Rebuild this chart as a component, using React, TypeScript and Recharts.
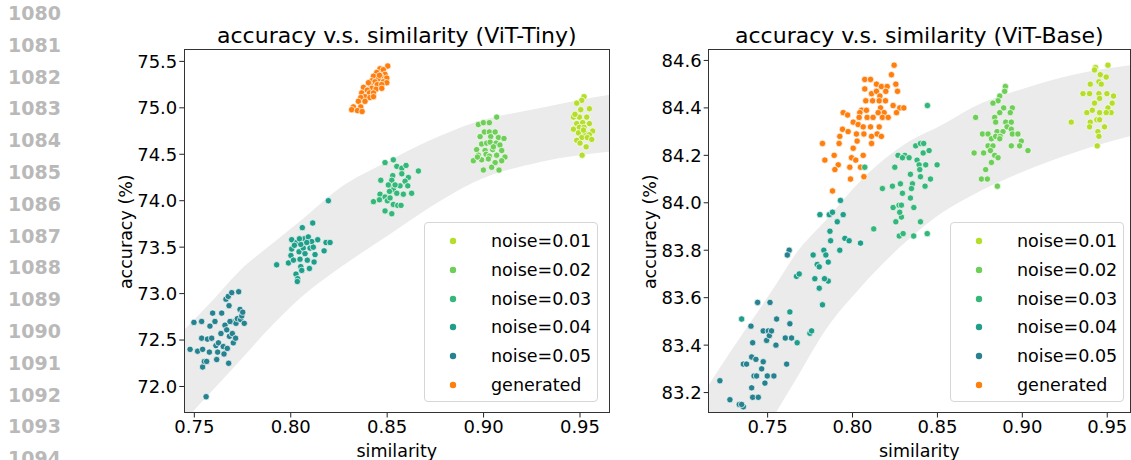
import React from 'react'
import { ComposedChart, Area, Scatter, XAxis, YAxis, Legend } from 'recharts'

const FONT = '"DejaVu Sans", sans-serif'

const legendLabels = ['noise=0.01', 'noise=0.02', 'noise=0.03', 'noise=0.04', 'noise=0.05', 'generated']
const colors = ['#b5de2b', '#6ece58', '#35b779', '#1f9e89', '#26828e', '#ff7f0e']
const lineNumbers = ['1080', '1081', '1082', '1083', '1084', '1085', '1086', '1087', '1088', '1089', '1090', '1091', '1092', '1093', '1094']

const xTicks = [0.75, 0.8, 0.85, 0.9, 0.95]
const tinyYTicks = [72, 72.5, 73, 73.5, 74, 74.5, 75, 75.5]
const baseYTicks = [83.2, 83.4, 83.6, 83.8, 84.0, 84.2, 84.4, 84.6]

// shaded trend band (lower / upper edge)
const tinyBandX = [0.72, 0.735, 0.7457, 0.76, 0.7737, 0.79, 0.8048, 0.8256, 0.85, 0.8722, 0.895, 0.93, 0.9656, 0.98]
const tinyBandLo = [71.06, 71.4, 71.65, 71.97, 72.28, 72.65, 72.95, 73.28, 73.62, 73.93, 74.2, 74.42, 74.53, 74.56]
const tinyBandHi = [72.04, 72.4, 72.63, 72.94, 73.25, 73.53, 73.78, 74.14, 74.42, 74.65, 74.84, 75.0, 75.14, 75.18]

const baseBandX = [0.7, 0.7161, 0.7553, 0.7671, 0.7847, 0.8043, 0.8337, 0.8531, 0.87, 0.9, 0.93, 0.9632, 0.975]
const baseBandLo = [82.4, 82.62, 83.12, 83.26, 83.47, 83.64, 83.85, 83.96, 84.03, 84.13, 84.21, 84.28, 84.3]
const baseBandHi = [83.05, 83.24, 83.66, 83.79, 83.93, 84.09, 84.26, 84.33, 84.4, 84.48, 84.54, 84.58, 84.59]

// ViT-Tiny
const tinyNoise01 = [
  [0.9521, 75.12], [0.9509, 75.08], [0.9483, 75.05], [0.9549, 74.99], [0.9504, 74.98], [0.9466, 74.9], [0.9497, 74.9],
  [0.9535, 74.9], [0.9483, 74.83], [0.9514, 74.84], [0.9549, 74.83], [0.9466, 74.77], [0.9497, 74.79], [0.9521, 74.79],
  [0.9566, 74.75], [0.9492, 74.73], [0.9526, 74.73], [0.9549, 74.71], [0.9509, 74.68], [0.9538, 74.68], [0.9483, 74.65],
  [0.9561, 74.66], [0.95, 74.62], [0.9532, 74.58], [0.9511, 74.49], [0.9474, 74.93], [0.9518, 74.76]
]
const tinyNoise02 = [
  [0.8973, 74.82], [0.8999, 74.84], [0.903, 74.84], [0.9068, 74.9], [0.9004, 74.74], [0.903, 74.74], [0.906, 74.74],
  [0.8982, 74.69], [0.9037, 74.69], [0.9077, 74.68], [0.9106, 74.67], [0.899, 74.61], [0.9016, 74.62], [0.9034, 74.63],
  [0.9065, 74.62], [0.9085, 74.6], [0.8964, 74.55], [0.9008, 74.54], [0.9047, 74.55], [0.9094, 74.54], [0.8973, 74.49],
  [0.9013, 74.5], [0.903, 74.48], [0.9068, 74.49], [0.9111, 74.47], [0.8947, 74.43], [0.899, 74.44], [0.9025, 74.45],
  [0.906, 74.41], [0.9094, 74.43], [0.8999, 74.33], [0.9042, 74.36], [0.908, 74.33], [0.8968, 74.47], [0.9051, 74.58]
]
const tinyNoise03 = [
  [0.8489, 74.41], [0.8532, 74.44], [0.855, 74.37], [0.8576, 74.35], [0.8598, 74.38], [0.8576, 74.29], [0.8529, 74.27],
  [0.8662, 74.32], [0.861, 74.25], [0.8593, 74.21], [0.8524, 74.22], [0.8567, 74.16], [0.8607, 74.16], [0.8518, 74.14],
  [0.8532, 74.12], [0.8512, 74.1], [0.8467, 74.22], [0.8463, 74.07], [0.8489, 74.04], [0.855, 74.08], [0.8584, 74.07],
  [0.8627, 74.08], [0.8429, 73.99], [0.846, 74.01], [0.8501, 74.0], [0.8532, 73.96], [0.8555, 73.95], [0.8572, 73.95],
  [0.8489, 73.89], [0.8524, 73.86], [0.8541, 74.17], [0.8515, 74.03], [0.8506, 74.17]
]
const tinyNoise04 = [
  [0.7927, 73.31], [0.7988, 73.33], [0.8005, 73.58], [0.8005, 73.48], [0.8001, 73.41], [0.8014, 73.36], [0.8027, 73.21],
  [0.8036, 73.16], [0.8034, 73.13], [0.8031, 73.55], [0.8043, 73.45], [0.8048, 73.37], [0.8052, 73.29], [0.8057, 73.25],
  [0.806, 73.71], [0.8065, 73.49], [0.8071, 73.59], [0.8074, 73.43], [0.8086, 73.36], [0.8091, 73.61], [0.8097, 73.27],
  [0.81, 73.49], [0.8109, 73.56], [0.8114, 73.76], [0.8117, 73.5], [0.8121, 73.34], [0.8126, 73.42], [0.814, 73.58],
  [0.8173, 73.46], [0.8183, 73.55], [0.8204, 73.55], [0.8195, 74.0], [0.8052, 73.53], [0.8019, 73.52], [0.8083, 73.55],
  [0.8045, 73.59]
]
const tinyNoise05 = [
  [0.7478, 72.4], [0.7498, 72.69], [0.7517, 72.38], [0.7538, 72.7], [0.7538, 72.52], [0.7543, 72.4], [0.7543, 72.21],
  [0.7552, 72.27], [0.7564, 72.27], [0.7561, 71.89], [0.7568, 72.51], [0.7578, 72.37], [0.7581, 72.65], [0.759, 72.52],
  [0.7595, 72.79], [0.7607, 72.7], [0.7612, 72.44], [0.7616, 72.29], [0.7621, 72.37], [0.7625, 72.47], [0.7638, 72.57],
  [0.7642, 72.79], [0.765, 72.43], [0.7654, 72.35], [0.7659, 72.66], [0.7664, 72.94], [0.7668, 72.61], [0.7671, 72.41],
  [0.7676, 72.97], [0.7678, 72.25], [0.768, 72.87], [0.7682, 72.54], [0.7694, 72.7], [0.7697, 72.57], [0.7702, 72.47],
  [0.7714, 72.52], [0.7716, 72.68], [0.7723, 72.73], [0.773, 73.02], [0.7737, 72.83], [0.774, 72.72], [0.7746, 72.76],
  [0.7751, 72.8], [0.7759, 72.68], [0.7694, 73.01], [0.7685, 72.7]
]
const tinyGenerated = [
  [0.8503, 75.45], [0.8463, 75.42], [0.848, 75.41], [0.8446, 75.38], [0.8489, 75.36], [0.8429, 75.34], [0.8467, 75.34],
  [0.8454, 75.31], [0.8498, 75.32], [0.842, 75.29], [0.8437, 75.28], [0.848, 75.28], [0.8498, 75.27], [0.8411, 75.25],
  [0.8449, 75.25], [0.8472, 75.25], [0.8377, 75.22], [0.842, 75.21], [0.8442, 75.2], [0.8397, 75.19], [0.8472, 75.21],
  [0.8368, 75.16], [0.8408, 75.16], [0.8429, 75.16], [0.8385, 75.12], [0.8411, 75.11], [0.8429, 75.12], [0.8363, 75.11],
  [0.8351, 75.07], [0.8385, 75.07], [0.8363, 75.01], [0.8325, 75.01], [0.8316, 74.98], [0.8346, 74.97], [0.837, 74.96],
  [0.846, 75.35], [0.8403, 75.27]
]

// ViT-Base
const baseNoise01 = [
  [0.9431, 84.57], [0.9504, 84.58], [0.9425, 84.56], [0.9459, 84.54], [0.9494, 84.53], [0.94, 84.5], [0.9451, 84.51],
  [0.9465, 84.5], [0.9357, 84.46], [0.9396, 84.46], [0.9451, 84.46], [0.9498, 84.46], [0.9537, 84.45], [0.9455, 84.44],
  [0.9425, 84.42], [0.9529, 84.42], [0.938, 84.38], [0.9412, 84.39], [0.9455, 84.38], [0.9504, 84.4], [0.9523, 84.38],
  [0.9288, 84.34], [0.94, 84.34], [0.9439, 84.35], [0.9455, 84.35], [0.9484, 84.32], [0.9396, 84.32], [0.9445, 84.3],
  [0.9451, 84.28], [0.9441, 84.24], [0.9494, 84.38]
]
const baseNoise02 = [
  [0.89, 84.49], [0.8896, 84.47], [0.8867, 84.45], [0.8857, 84.43], [0.8827, 84.42], [0.889, 84.4], [0.8941, 84.4],
  [0.8725, 84.36], [0.8837, 84.36], [0.8867, 84.38], [0.8929, 84.38], [0.8843, 84.34], [0.8902, 84.34], [0.8935, 84.34],
  [0.891, 84.32], [0.8935, 84.31], [0.8765, 84.29], [0.8798, 84.29], [0.8851, 84.3], [0.8886, 84.3], [0.8941, 84.29],
  [0.8974, 84.29], [0.8818, 84.27], [0.8843, 84.28], [0.887, 84.28], [0.8994, 84.26], [0.8798, 84.24], [0.8827, 84.24],
  [0.8935, 84.24], [0.8984, 84.24], [0.9033, 84.22], [0.8716, 84.21], [0.8772, 84.21], [0.8812, 84.22], [0.8837, 84.2],
  [0.8857, 84.19], [0.8818, 84.17], [0.8784, 84.14], [0.8759, 84.1], [0.8794, 84.1], [0.8853, 84.07], [0.8867, 84.27]
]
const baseNoise03 = [
  [0.8441, 84.41], [0.8268, 84.2], [0.8308, 84.2], [0.8294, 84.19], [0.8333, 84.19], [0.8372, 84.24], [0.84, 84.25],
  [0.8419, 84.25], [0.838, 84.18], [0.8416, 84.21], [0.8451, 84.22], [0.8392, 84.16], [0.8431, 84.16], [0.8498, 84.16],
  [0.8396, 84.14], [0.8249, 84.15], [0.8341, 84.12], [0.84, 84.11], [0.8459, 84.1], [0.8282, 84.08], [0.8353, 84.08],
  [0.8347, 84.06], [0.8294, 84.04], [0.8176, 84.06], [0.8235, 84.07], [0.8427, 84.07], [0.8341, 84.02], [0.8239, 83.98],
  [0.8274, 83.99], [0.8361, 83.98], [0.8072, 84.15], [0.8125, 83.89], [0.8275, 83.86], [0.8298, 83.87], [0.8255, 83.92],
  [0.8288, 83.94], [0.8288, 83.99], [0.8278, 83.96], [0.84, 83.92], [0.844, 83.87], [0.836, 83.86]
]
const baseNoise04 = [
  [0.7347, 83.51], [0.7631, 83.54], [0.7674, 83.41], [0.767, 83.69], [0.7686, 83.7], [0.7749, 83.45], [0.7759, 83.46],
  [0.7768, 83.78], [0.7778, 83.68], [0.7792, 83.74], [0.7804, 83.73], [0.7808, 83.95], [0.7804, 83.64], [0.7823, 83.57],
  [0.7831, 83.8], [0.7843, 83.78], [0.7857, 83.75], [0.7857, 83.67], [0.7863, 83.95], [0.7835, 83.68], [0.7929, 84.01],
  [0.7882, 83.96], [0.7945, 83.95], [0.791, 83.92], [0.7867, 83.88], [0.7871, 83.84], [0.7955, 83.85], [0.798, 83.84],
  [0.8047, 83.83], [0.7925, 83.8]
]
const baseNoise05 = [
  [0.7219, 83.25], [0.7278, 83.17], [0.7333, 83.15], [0.7357, 83.14], [0.7402, 83.48], [0.7412, 83.41], [0.7406, 83.35],
  [0.7406, 83.22], [0.7412, 83.18], [0.742, 83.27], [0.7431, 83.34], [0.7445, 83.18], [0.7441, 83.58], [0.7465, 83.3],
  [0.7474, 83.46], [0.7474, 83.33], [0.7484, 83.24], [0.7494, 83.42], [0.7498, 83.27], [0.7504, 83.46], [0.7514, 83.58],
  [0.751, 83.44], [0.7523, 83.46], [0.7537, 83.27], [0.7549, 83.4], [0.7553, 83.51], [0.7604, 83.43], [0.7612, 83.32],
  [0.7627, 83.8], [0.7631, 83.49], [0.7641, 83.43], [0.7616, 83.78], [0.7357, 83.32], [0.7376, 83.32], [0.7435, 83.27],
  [0.7347, 83.15]
]
const baseGenerated = [
  [0.8245, 84.58], [0.8229, 84.54], [0.8072, 84.52], [0.8106, 84.52], [0.8255, 84.5], [0.8141, 84.5], [0.817, 84.49],
  [0.8204, 84.49], [0.8072, 84.48], [0.8112, 84.46], [0.8141, 84.47], [0.8196, 84.47], [0.8265, 84.47], [0.8161, 84.45],
  [0.8078, 84.43], [0.8118, 84.43], [0.8157, 84.43], [0.8194, 84.43], [0.8239, 84.41], [0.8278, 84.4], [0.8302, 84.4],
  [0.8259, 84.38], [0.8165, 84.4], [0.8186, 84.38], [0.7945, 84.38], [0.7971, 84.37], [0.8053, 84.39], [0.8082, 84.39],
  [0.8043, 84.38], [0.8151, 84.38], [0.8004, 84.34], [0.8039, 84.36], [0.8086, 84.36], [0.8121, 84.36], [0.8176, 84.36],
  [0.821, 84.36], [0.7941, 84.31], [0.7974, 84.3], [0.8033, 84.33], [0.8063, 84.32], [0.8106, 84.32], [0.8157, 84.32],
  [0.7925, 84.28], [0.8023, 84.29], [0.8067, 84.29], [0.8112, 84.28], [0.8145, 84.29], [0.817, 84.28], [0.7921, 84.25],
  [0.7823, 84.25], [0.8027, 84.26], [0.8112, 84.25], [0.8004, 84.23], [0.7892, 84.2], [0.7837, 84.18], [0.7916, 84.16],
  [0.7994, 84.19], [0.8019, 84.18], [0.8063, 84.2], [0.7896, 84.14], [0.7984, 84.15], [0.8047, 84.15], [0.7988, 84.1],
  [0.8067, 84.11], [0.7882, 84.05]
]

const dot = (color: string) => (props: any) => (
  <circle cx={props.cx} cy={props.cy} r={3.2} fill={color} stroke="#fff" strokeWidth={0.7} />
)

function LegendBox() {
  return (
    <div style={{
      width: 174, height: 180, boxSizing: 'border-box', border: '1px solid #d6d6d6', borderRadius: 4,
      background: 'rgba(255,255,255,0.8)', fontFamily: FONT, fontSize: 17.5, color: '#000', position: 'relative'
    }}>
      {legendLabels.map((label, i) => (
        <div key={label} style={{ position: 'absolute', left: 0, top: 17.7 + 28.8 * i - 12, height: 24, display: 'flex', alignItems: 'center', lineHeight: '24px' }}>
          <svg width={60} height={24}><circle cx={28} cy={12} r={3.2} fill={colors[i]} /></svg>
          <span style={{ marginLeft: 6 }}>{label}</span>
        </div>
      ))}
    </div>
  )
}

const PLOT_TOP = 49.3
const PLOT_BOTTOM = 412.5

function Panel(props: any) {
  const { left, width, plotLeft, plotRight, xDomain, yDomain, yTicks, bandX, bandLo, bandHi, groups, legendLeft } = props
  const bandData = bandX.map((x: number, i: number) => ({ x, band: [bandLo[i], bandHi[i]] }))
  const tickStyle = { fill: '#000', fontSize: 18, fontFamily: FONT }
  return (
    <div style={{ position: 'absolute', left, top: 0, width, height: 460 }}>
      <ComposedChart
        width={width}
        height={460}
        data={bandData}
        margin={{ top: PLOT_TOP, right: left + width - plotRight, bottom: 0, left: 0 }}
      >
        <XAxis
          type="number"
          dataKey="x"
          domain={xDomain}
          allowDataOverflow
          ticks={xTicks}
          interval={0}
          tickFormatter={(v: number) => v.toFixed(2)}
          height={460 - PLOT_BOTTOM}
          tickSize={5}
          tickMargin={3}
          axisLine={false}
          tickLine={{ stroke: '#222', strokeWidth: 1 }}
          tick={tickStyle}
        />
        <YAxis
          type="number"
          domain={yDomain}
          allowDataOverflow
          ticks={yTicks}
          interval={0}
          tickFormatter={(v: number) => v.toFixed(1)}
          width={plotLeft - left}
          tickSize={5}
          tickMargin={2}
          axisLine={false}
          tickLine={{ stroke: '#222', strokeWidth: 1 }}
          tick={tickStyle}
        />
        <Area
          dataKey="band"
          type="monotone"
          fill="#ebebeb"
          fillOpacity={1}
          stroke="none"
          dot={false}
          activeDot={false}
          isAnimationActive={false}
        />
        {groups.map((g: number[][], i: number) => (
          <Scatter
            key={legendLabels[i]}
            name={legendLabels[i]}
            data={g.map(([x, y]) => ({ x, y }))}
            dataKey="y"
            fill={colors[i]}
            shape={dot(colors[i])}
            isAnimationActive={false}
          />
        )).reverse()}
        <Legend
          layout="vertical"
          align="center"
          verticalAlign="middle"
          wrapperStyle={{ left: legendLeft - left, top: 222.3, width: 174, height: 180 }}
          content={() => <LegendBox />}
        />
      </ComposedChart>
      <div style={{
        position: 'absolute', left: plotLeft - left - 0.6, top: PLOT_TOP - 0.6, width: plotRight - plotLeft + 1.2,
        height: PLOT_BOTTOM - PLOT_TOP + 1.2, boxSizing: 'border-box', border: '1.2px solid #333', pointerEvents: 'none'
      }} />
    </div>
  )
}

export default function App() {
  return (
    <div style={{ position: 'absolute', left: 0, top: 0, width: 1131, height: 460, background: '#fff', overflow: 'hidden' }}>
      <Panel
        left={100}
        width={520}
        plotLeft={184.3}
        plotRight={609.3}
        xDomain={[0.7448, 0.9652]}
        yDomain={[71.72, 75.63]}
        yTicks={tinyYTicks}
        bandX={tinyBandX}
        bandLo={tinyBandLo}
        bandHi={tinyBandHi}
        groups={[tinyNoise01, tinyNoise02, tinyNoise03, tinyNoise04, tinyNoise05, tinyGenerated]}
        legendLeft={424}
      />
      <Panel
        left={620}
        width={511}
        plotLeft={708.7}
        plotRight={1130}
        xDomain={[0.7153, 0.9634]}
        yDomain={[83.116, 84.647]}
        yTicks={baseYTicks}
        bandX={baseBandX}
        bandLo={baseBandLo}
        bandHi={baseBandHi}
        groups={[baseNoise01, baseNoise02, baseNoise03, baseNoise04, baseNoise05, baseGenerated]}
        legendLeft={950}
      />
      <svg width={1131} height={460} style={{ position: 'absolute', left: 0, top: 0, pointerEvents: 'none' }}>
        {lineNumbers.map((n, i) => (
          <text key={n} x={8} y={20 + 31.8 * i} fontFamily={FONT} fontWeight="bold" fontSize={19} fill="#b9b9b9">{n}</text>
        ))}
        <text x={396.8} y={43} textAnchor="middle" fontFamily={FONT} fontSize={22} fill="#000">accuracy v.s. similarity (ViT-Tiny)</text>
        <text x={919.3} y={43} textAnchor="middle" fontFamily={FONT} fontSize={22} fill="#000">accuracy v.s. similarity (ViT-Base)</text>
        <text x={396.8} y={457} textAnchor="middle" fontFamily={FONT} fontSize={17.5} fill="#000">similarity</text>
        <text x={919.3} y={457} textAnchor="middle" fontFamily={FONT} fontSize={17.5} fill="#000">similarity</text>
        <text transform="translate(126,231.7) rotate(-90)" textAnchor="middle" dy="0.35em" fontFamily={FONT} fontSize={17.5} fill="#000">accuracy (%)</text>
        <text transform="translate(650,231.7) rotate(-90)" textAnchor="middle" dy="0.35em" fontFamily={FONT} fontSize={17.5} fill="#000">accuracy (%)</text>
      </svg>
    </div>
  )
}
